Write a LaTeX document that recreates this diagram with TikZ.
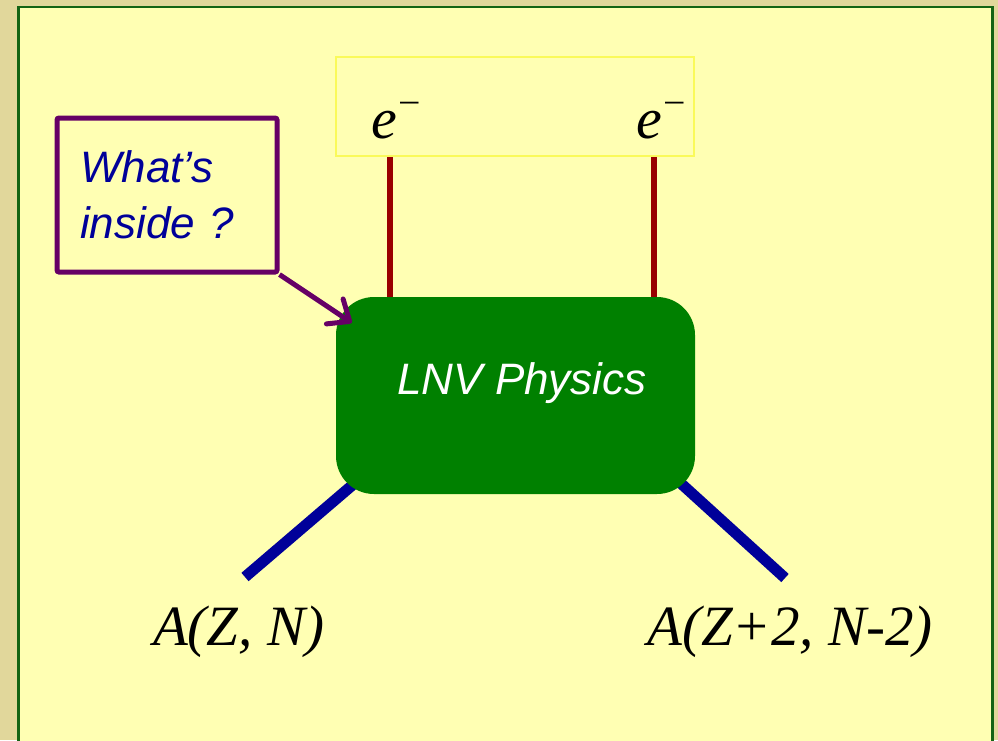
\documentclass[tikz,border=0pt]{standalone}
\usepackage{fontspec}
\newfontfamily\arialfont{Liberation Sans}
\newfontfamily\timesfont{Liberation Serif}
\usetikzlibrary{arrows.meta,positioning,backgrounds}
\definecolor{tanbg}{RGB}{225,215,155}
\definecolor{panelbg}{RGB}{255,255,179}
\definecolor{panelline}{RGB}{20,100,20}
\definecolor{eline}{RGB}{250,250,90}
\definecolor{lnvgreen}{RGB}{0,128,0}
\definecolor{leptonred}{RGB}{153,0,0}
\definecolor{nucblue}{RGB}{0,0,153}
\definecolor{askpurple}{RGB}{102,0,102}
\newcommand{\elec}{e\kern3pt\raisebox{27pt}{\fontsize{36}{36}\selectfont\upshape –}}

\begin{document}
\begin{tikzpicture}[x=1pt,y=-1pt,every node/.style={inner sep=0pt},
  lepton/.style={leptonred,line width=6pt},
  nucleus/.style={nucblue,line width=11pt},
  pointer/.style={askpurple,line width=5pt,-{Straight Barb[round,length=18pt,width=30pt]}},
  sanslab/.style={font=\arialfont\itshape\fontsize{44}{56}\selectfont},
  seriflab/.style={font=\timesfont\itshape\fontsize{57}{60}\selectfont,anchor=base}]
\useasboundingbox (0,0) rectangle (998,740);
% box of the electrons and the black box
\node[fill=panelbg,draw=eline,line width=2pt,minimum width=358pt,minimum height=99pt] (ebox) at (515,106.5) {};
\node[seriflab,font=\timesfont\itshape\fontsize{58}{60}\selectfont] (e1) at (395,138) {\elec};
\node[seriflab,font=\timesfont\itshape\fontsize{58}{60}\selectfont] (e2) at (660,138) {\elec};
\node[fill=lnvgreen,rounded corners=38pt,minimum width=359pt,minimum height=197pt] (core) at (515.5,395.5) {};
\node[sanslab,text=white] (lnv) at (522,383) {LNV Physics};
\draw[lepton] (390,0 |- ebox.south) -- (390,0 |- core.north);
\draw[lepton] (654,0 |- ebox.south) -- (654,0 |- core.north);
% the question
\node[draw=askpurple,line width=5pt,rounded corners=2pt,minimum width=220pt,minimum height=154pt,
  text width=174pt,inner xsep=23pt,align=left,sanslab,text=nucblue] (ask) at (167,195) {What’s\\inside ?};
\draw[pointer] (ask.south east) -- ([shift={(16,26)}]core.north west);
% nuclei
\coordinate (nl) at (245,577);
\coordinate (nr) at (785,578);
\node[seriflab] (za) at (238.5,645) {A(Z, N)};
\node[seriflab] (zb) at (790,645) {A(Z+2, N-2)};
\begin{pgfonlayer}{background}
\fill[tanbg] (0,0) rectangle (998,740);
\filldraw[fill=panelbg,draw=panelline,line width=2.5pt] (18.5,7) rectangle (992.5,760);
\draw[nucleus] (nl) -- ([shift={(20,-12)}]core.south west);
\draw[nucleus] (nr) -- ([shift={(-20,-16)}]core.south east);
\end{pgfonlayer}
\end{tikzpicture}
\end{document}
